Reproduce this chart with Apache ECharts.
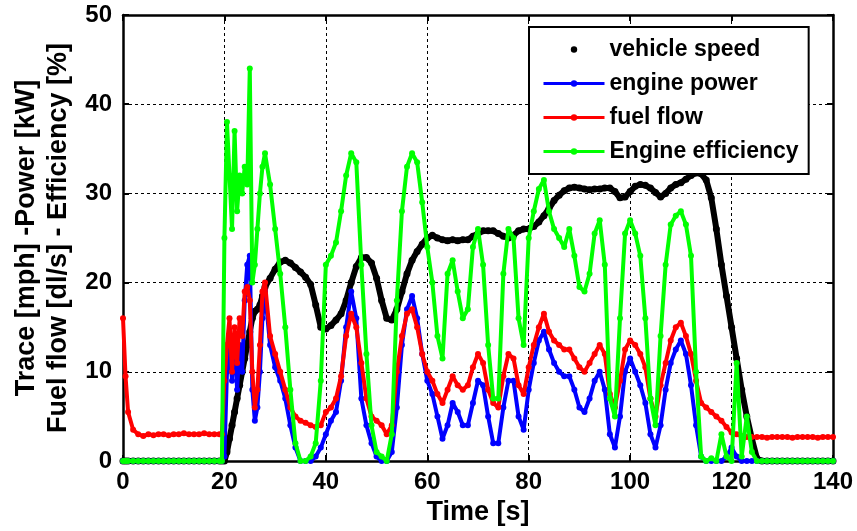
<!DOCTYPE html>
<html>
<head>
<meta charset="utf-8">
<script src="https://cdn.jsdelivr.net/npm/echarts@6/dist/echarts.min.js"></script>
<style>
html,body{margin:0;padding:0;background:#fff;}
#chart{width:857px;height:531px;}
</style>
</head>
<body>
<div id="chart"></div>
<script>
// Time axis samples [s]
const time = [0,0.5,1,2,3,4,5,6,7,8,9,10,11,12,13,14,15,16,17,18,19,
  19.5,20,20.5,21,21.5,22,22.5,23,23.5,24,24.5,25,25.5,26,26.5,27,27.5,28,
  29,30,31,32,33,34,35,36,37,38,39,40,41,42,43,44,45,46,47,48,49,50,
  51,52,53,54,55,56,57,58,59,60,61,62,63,64,65,66,67,68,69,70,
  71,72,73,74,75,76,77,78,79,80,81,82,83,84,85,86,87,88,89,90,
  91,92,93,94,95,96,97,98,99,100,101,102,103,104,105,106,107,108,109,110,
  111,112,113,114,115,116,117,118,119,120,121,122,123,124,125,126,127,128,129,130,
  131,132,133,134,135,136,137,138,139,140];

// vehicle speed [mph]
const vehicleSpeed = [0,0,0,0,0,0,0,0,0,0,0,0,0,0,0,0,0,0,0,0,0,
  0,0,1,2.5,4,5.5,7,8.5,10,11.5,13,14.5,16,16.8,17,17.5,18.5,19.5,
  20.5,21.5,22.3,22.5,22.2,21.7,21.2,20.6,19.8,17.5,15,14.8,15.2,15.8,16.5,18,20,21.8,22.8,22.8,22.2,20.5,
  18,16,15.8,17,19,21,22.5,23.5,24.3,25,25.3,25,24.8,24.7,24.8,24.7,24.8,24.8,25.2,25.5,
  25.8,25.8,25.8,25.5,25.2,25,25.3,25.8,26,26,26.3,26.8,27.5,28.3,29.2,29.8,30.3,30.6,30.7,30.6,
  30.5,30.4,30.5,30.5,30.6,30.6,30.2,29.5,29.6,30.2,30.8,31,30.9,30.6,30.1,29.6,30,30.6,31,31.2,
  31.6,32,32.3,32.2,31.5,29.5,26,22,18.5,15,11.5,8,5,2.5,0.3,0,0,0,0,0,
  0,0,0,0,0,0,0,0,0,0];

// engine power [kW]
const enginePower = [0,0,0,0,0,0,0,0,0,0,0,0,0,0,0,0,0,0,0,0,0,
  0,0.5,10,13,9,14,8,13,10,18,22,23,8,4.5,6,10,16,19,
  13,10.5,9,7,4,1.5,0,0,0,0.5,1.5,3,4.5,5.5,9,15,19,16,7,4,2,0.5,
  0,0,1,6,13,17,18.5,16,12,9,7.5,5,2.5,4,6.5,5.5,4,4,6.5,9,
  8.5,5,2,2,6,9,9,5,3.5,8,11,13.5,14.5,12.5,11,10,9.5,9.5,8,6,
  5.5,7,9,10,8,3,1.5,5,10,11.5,10,8.5,6.5,3,1.5,4,8,11,12.5,13.5,
  12,8.5,4,0.5,0,0,0,0,0.5,1.5,0.5,0,0,0,0,0,0,0,0,0,
  0,0,0,0,0,0,0,0,0,0];

// fuel flow [dl/s]
const fuelFlow = [16,9.5,5.5,3.5,3,2.8,3,2.9,3,3,2.9,3,3,3.1,3,3,3,3.1,3,3,3,
  3,9,13,16,10,15,11,16,14,19,19.5,18,10,6,8,13,19,20,
  14,12,10,8,6,5,4.5,4.3,4,3.8,4,5.5,6,7,9.5,14,16.5,15,11,7,5,4.5,
  4,3,4,10,14,16.5,17,15,12,10,9,7.5,6.5,8,9.5,8.5,8,8.5,10.5,12,
  11,8,6.5,6,9.5,12,11.5,8.5,7.5,10.5,13,15,16.5,14.5,13.5,13,12.5,12.5,11.5,10.5,
  10,11,12,13,12,7.5,6,9,12.5,13.5,13,12,10.5,7,5,8.5,11,13.5,15,15.5,
  14,12,9,6.5,6,5.5,5,4.5,3.8,3.2,3,2.8,2.7,2.7,2.7,2.7,2.6,2.7,2.7,2.7,
  2.7,2.6,2.7,2.7,2.7,2.7,2.6,2.7,2.7,2.7];

// engine efficiency [%]
const engineEfficiency = [0,0,0,0,0,0,0,0,0,0,0,0,0,0,0,0,0,0,0,0,0,
  0,25,38,32,26,37,28,32,30,33,31,44,20,22,26,30,33,34.5,
  31,26,21,15,8,2,0,0,0.5,2,9,22,23,24.5,28,32,34.5,33.5,22,12,4,1,
  0.5,0,3,18,28,33,34.5,33.5,29,24,20,14,11.5,21,22.5,19,16,17,24,26,
  22,13,7,7,21,26,25,16,13,25,28,30.5,31.5,28,26,25,24,26,23,19.5,
  19,21,25.5,27,22,7,5,16,25.5,27,25.5,23,16,7,4,14,22,26.5,27.5,28,
  26.5,23,10,0.5,0,0.3,0,3,0.5,0,11,0.5,5,1,0,0,0,0,0,0,
  0,0,0,0,0,0,0,0,0,0];

const seriesNames = ['vehicle speed','engine power','fuel flow','Engine efficiency'];
const seriesColors = ['#000000','#0000ff','#ff0000','#00ff00'];
const seriesValues = [vehicleSpeed, enginePower, fuelFlow, engineEfficiency];

const FONT = 'Liberation Sans, Arial, sans-serif';

const chart = echarts.init(document.getElementById('chart'), null, {renderer:'canvas'});

const series = seriesNames.map((name, i) => ({
  name: name,
  type: 'line',
  xAxisIndex: 0,
  yAxisIndex: 0,
  data: time.map((t, k) => [t, seriesValues[i][k]]),
  showSymbol: true,
  symbol: 'circle',
  symbolSize: i === 0 ? 7 : 6,
  itemStyle: {color: seriesColors[i]},
  lineStyle: {color: seriesColors[i], width: i === 0 ? 6 : 4},
  animation: false,
  z: 2 + i
}));

chart.setOption({
  backgroundColor: '#ffffff',
  animation: false,
  grid: {left: 123, right: 24, top: 15, bottom: 70, show: false},
  legend: {
    left: 529, top: 27,
    orient: 'vertical',
    backgroundColor: '#ffffff',
    borderColor: '#000000',
    borderWidth: 2,
    borderRadius: 0,
    padding: [11, 10, 11, 13],
    itemGap: 11,
    itemWidth: 61,
    itemHeight: 8,
    textStyle: {fontFamily: FONT, fontWeight: 'bold', fontSize: 23, color: '#000'},
    data: [
      {name: 'vehicle speed', lineStyle: {width: 0, opacity: 0}},
      {name: 'engine power', lineStyle: {width: 3}},
      {name: 'fuel flow', lineStyle: {width: 3}},
      {name: 'Engine efficiency', lineStyle: {width: 3}}
    ]
  },
  xAxis: [
    {
      type: 'value', min: 0, max: 140, interval: 20,
      position: 'bottom',
      name: 'Time [s]',
      nameLocation: 'middle',
      nameGap: 38,
      nameTextStyle: {fontFamily: FONT, fontWeight: 'bold', fontSize: 27, color: '#000'},
      axisLine: {show: true, onZero: false, lineStyle: {color: '#000', width: 2.5}},
      axisTick: {show: true, inside: true, length: 6, lineStyle: {color: '#000', width: 2}},
      axisLabel: {show: true, margin: 9, fontFamily: FONT, fontWeight: 'bold', fontSize: 24, color: '#000'},
      splitLine: {show: true, lineStyle: {color: '#000', width: 1, type: [3, 3]}}
    },
    {
      type: 'value', min: 0, max: 140, interval: 20,
      position: 'top',
      axisLine: {show: true, onZero: false, lineStyle: {color: '#000', width: 2.5}},
      axisTick: {show: true, inside: true, length: 6, lineStyle: {color: '#000', width: 2}},
      axisLabel: {show: false},
      splitLine: {show: false}
    }
  ],
  yAxis: [
    {
      type: 'value', min: 0, max: 50, interval: 10,
      position: 'left',
      name: 'Trace [mph] -Power [kW]\nFuel flow [dl/s] - Efficiency [%]',
      nameLocation: 'middle',
      nameGap: 48,
      nameTextStyle: {fontFamily: FONT, fontWeight: 'bold', fontSize: 27, lineHeight: 32, color: '#000', align: 'center'},
      axisLine: {show: true, onZero: false, lineStyle: {color: '#000', width: 2.5}},
      axisTick: {show: true, inside: true, length: 6, lineStyle: {color: '#000', width: 2}},
      axisLabel: {show: true, margin: 11, fontFamily: FONT, fontWeight: 'bold', fontSize: 24, color: '#000'},
      splitLine: {show: true, lineStyle: {color: '#000', width: 1, type: [3, 3]}}
    },
    {
      type: 'value', min: 0, max: 50, interval: 10,
      position: 'right',
      axisLine: {show: true, onZero: false, lineStyle: {color: '#000', width: 2.5}},
      axisTick: {show: true, inside: true, length: 6, lineStyle: {color: '#000', width: 2}},
      axisLabel: {show: false},
      splitLine: {show: false}
    }
  ],
  series: series
});
</script>
</body>
</html>
